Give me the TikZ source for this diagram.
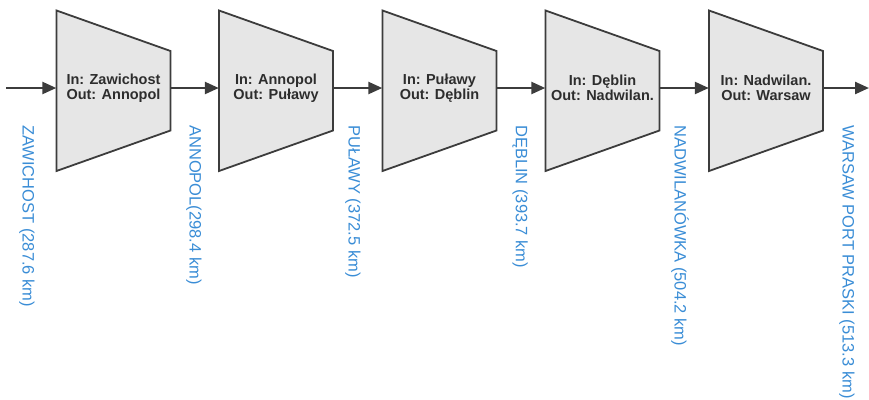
\documentclass[tikz,border=0pt]{standalone}
\usepackage{fontspec}
\setmainfont{Liberation Sans}
\usetikzlibrary{calc,arrows.meta}

\definecolor{edgegray}{RGB}{60,60,60}
\definecolor{fillgray}{RGB}{230,230,230}
\definecolor{textgray}{RGB}{45,45,45}
\definecolor{labelblue}{RGB}{58,141,214}

\tikzset{
  lock/.style={minimum width=114pt, minimum height=150pt, inner sep=0pt,
    align=center, text=textgray,
    font=\fontsize{14.5}{15}\selectfont\bfseries},
  lockshape/.style={draw=edgegray, fill=fillgray, line width=1.8pt, line join=miter},
  flow/.style={draw=edgegray, line width=2.4pt,
    -{Triangle[length=14pt,width=12pt]}},
  station/.style={rotate=-90, anchor=west, inner sep=0pt, text=labelblue,
    font=\fontsize{16.5}{18}\selectfont}
}

% trapezoid behind a lock node: tall inlet side, short outlet side
\newcommand\lockoutline[1]{%
  \draw[lockshape] ($(#1.center)+(-57,-77.5)$) -- ($(#1.center)+(57,-37)$)
    -- ($(#1.center)+(57,42.5)$) -- ($(#1.center)+(-57,83)$) -- cycle;}

\begin{document}
\begin{tikzpicture}[x=1pt, y=-1pt]
  \useasboundingbox (0,0) rectangle (869,399);

  % locks along the river
  \path (113.5,88) coordinate (c1) (276,88) coordinate (c2) (439.5,88) coordinate (c3)
        (602.5,88) coordinate (c4) (766,88) coordinate (c5);
  \foreach \i in {1,...,5} { \lockoutline{c\i} }

  \node[lock] (b1) at (c1) {In: Zawichost\\Out: Annopol};
  \node[lock] (b2) at (c2) {In: Annopol\\Out: Puławy};
  \node[lock] (b3) at (c3) {In: Puławy\\Out: Dęblin};
  \node[lock] (b4) at (c4) {In: Dęblin\\Out: Nadwilan.};
  \node[lock] (b5) at (c5) {In: Nadwilan.\\Out: Warsaw};

  % river inflow and outflow ends
  \coordinate (src) at (6,88);
  \coordinate (snk) at (869,88);

  \draw[flow] (src) -- (b1.west);
  \draw[flow] (b1.east) -- (b2.west);
  \draw[flow] (b2.east) -- (b3.west);
  \draw[flow] (b3.east) -- (b4.west);
  \draw[flow] (b4.east) -- (b5.west);
  \draw[flow] (b5.east) -- (snk);

  % gauging stations with river kilometre
  \node[station] (s1) at (27,125) {ZAWICHOST (287.6 km)};
  \node[station] (s2) at (194,125) {ANNOPOL(298.4 km)};
  \node[station] (s3) at (353,125) {PUŁAWY (372.5 km)};
  \node[station] (s4) at (520,125) {DĘBLIN (393.7 km)};
  \node[station] (s5) at (680,125) {NADWILANÓWKA (504.2 km)};
  \node[station] (s6) at (847,125) {WARSAW PORT PRASKI (513.3 km)};
\end{tikzpicture}
\end{document}
